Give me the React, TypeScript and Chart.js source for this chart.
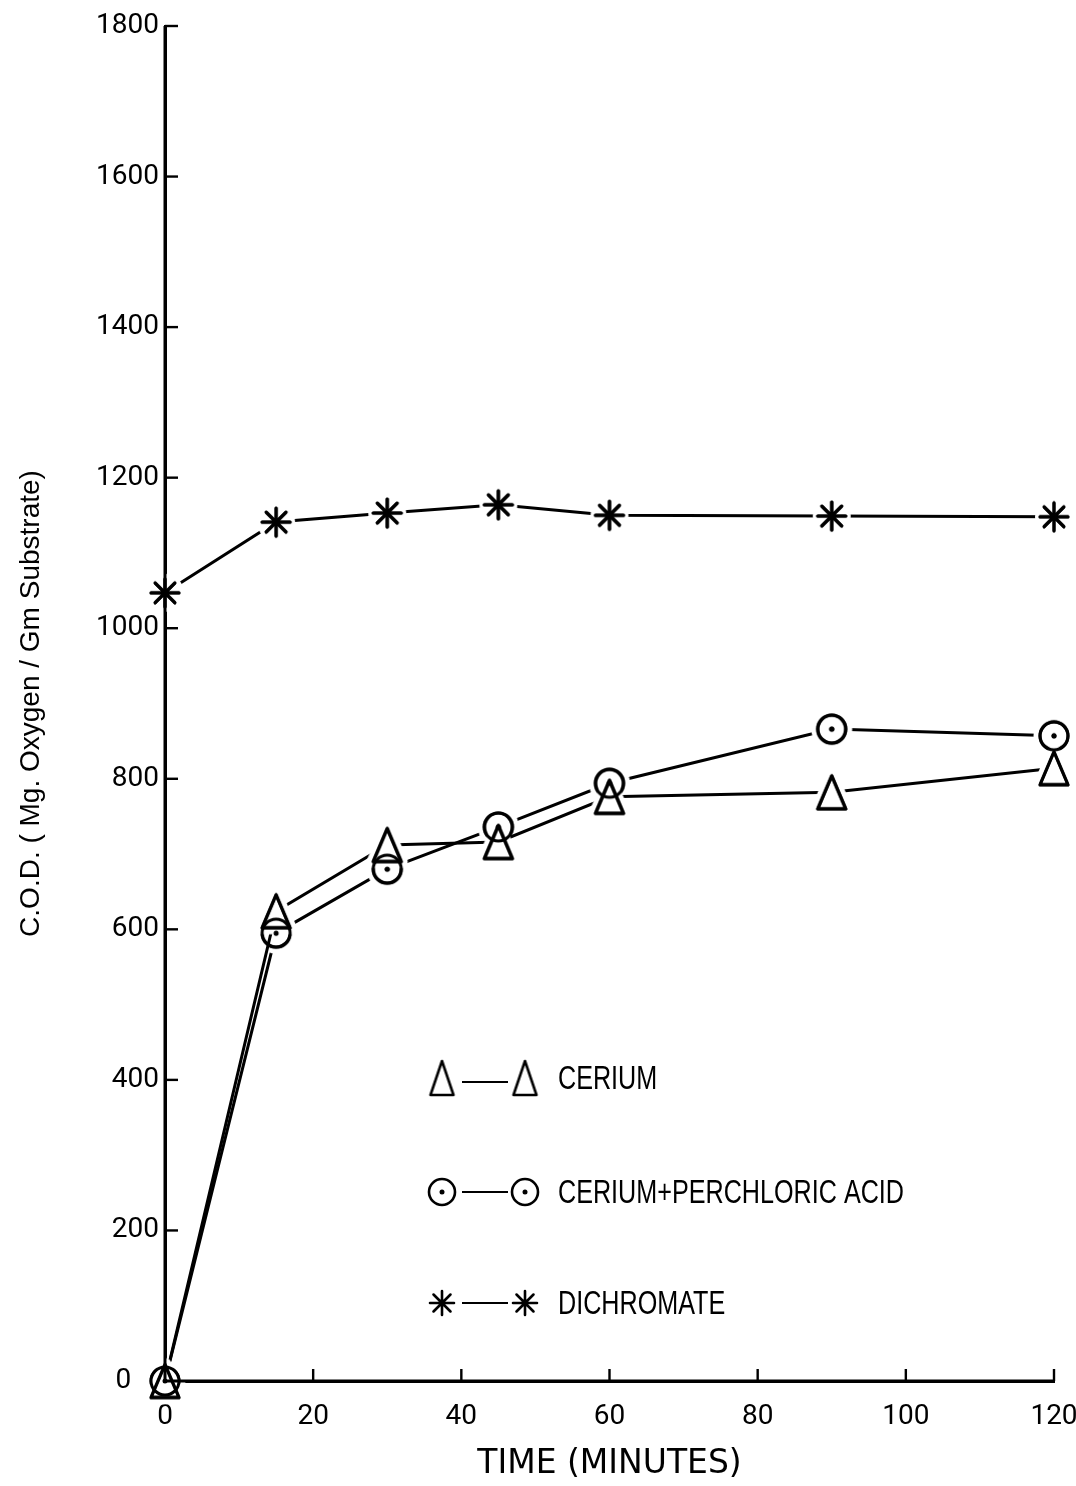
import React, { useEffect, useRef } from "react";
import { Chart, registerables } from "chart.js";

Chart.register(...registerables);

// ---- data ----
const TIME_MIN = [0, 15, 30, 45, 60, 90, 120];
const CERIUM = [0, 624, 712, 716, 776, 782, 814];
const CERIUM_PERCHLORIC = [0, 595, 680, 736, 794, 866, 857];
const DICHROMATE = [1047, 1141, 1153, 1164, 1150, 1149, 1148];
const SERIES_LABELS = ["CERIUM", "CERIUM+PERCHLORIC ACID", "DICHROMATE"];
const SERIES_MARKERS = ["triangle", "dotcircle", "star"];
const X_TICKS = [0, 20, 40, 60, 80, 100, 120];
const Y_TICKS = [0, 200, 400, 600, 800, 1000, 1200, 1400, 1600, 1800];
const X_TITLE = "TIME (MINUTES)";
const Y_TITLE = "C.O.D. ( Mg. Oxygen / Gm Substrate)";

type Kind = "triangle" | "dotcircle" | "star";

function shapePath(ctx: CanvasRenderingContext2D, kind: Kind, cx: number, cy: number, w: number, h: number) {
  ctx.beginPath();
  if (kind === "triangle") {
    ctx.moveTo(cx, cy - h / 2);
    ctx.lineTo(cx + w / 2, cy + h / 2);
    ctx.lineTo(cx - w / 2, cy + h / 2);
    ctx.closePath();
  } else if (kind === "dotcircle") {
    ctx.arc(cx, cy, w / 2, 0, Math.PI * 2);
  } else {
    const r = w / 2;
    for (let k = 0; k < 4; k++) {
      const a = (k * Math.PI) / 4;
      ctx.moveTo(cx - r * Math.cos(a), cy - r * Math.sin(a));
      ctx.lineTo(cx + r * Math.cos(a), cy + r * Math.sin(a));
    }
  }
}

function makeMarker(kind: Kind, w: number, h: number, withHalo: boolean, lw: number) {
  const halo = withHalo ? 5 : 0;
  const pad = halo + lw + 2;
  const c = document.createElement("canvas");
  c.width = Math.ceil(w + pad * 2);
  c.height = Math.ceil(h + pad * 2);
  const ctx = c.getContext("2d")!;
  const cx = c.width / 2;
  const cy = c.height / 2;
  ctx.lineJoin = "round";
  ctx.lineCap = "round";
  if (withHalo) {
    ctx.fillStyle = "#fff";
    ctx.strokeStyle = "#fff";
    if (kind === "star") {
      ctx.beginPath();
      ctx.arc(cx, cy, w / 2 + halo, 0, Math.PI * 2);
      ctx.fill();
    } else {
      shapePath(ctx, kind, cx, cy, w, h);
      ctx.lineWidth = lw + halo * 2;
      ctx.stroke();
      ctx.fill();
    }
  }
  ctx.strokeStyle = "#000";
  ctx.lineWidth = lw;
  shapePath(ctx, kind, cx, cy, w, h);
  ctx.stroke();
  if (kind === "dotcircle") {
    ctx.fillStyle = "#000";
    ctx.beginPath();
    ctx.arc(cx, cy, 2.5, 0, Math.PI * 2);
    ctx.fill();
  }
  return c;
}

const SERIES_VALUES = [CERIUM, CERIUM_PERCHLORIC, DICHROMATE];

export default function App() {
  const ref = useRef<HTMLCanvasElement>(null);

  useEffect(() => {
    if (!ref.current) return;
    const sizes: Record<Kind, [number, number]> = {
      triangle: [28, 33],
      dotcircle: [28, 28],
      star: [28, 28],
    };
    const legendSizes: Record<Kind, [number, number]> = {
      triangle: [23, 34],
      dotcircle: [26, 26],
      star: [24, 24],
    };
    const filled = SERIES_MARKERS.map((k) => makeMarker(k as Kind, sizes[k as Kind][0], sizes[k as Kind][1], true, 3));
    const outlines = SERIES_MARKERS.map((k) => makeMarker(k as Kind, sizes[k as Kind][0], sizes[k as Kind][1], false, 3));
    const legendImgs = SERIES_MARKERS.map((k) =>
      makeMarker(k as Kind, legendSizes[k as Kind][0], legendSizes[k as Kind][1], false, 2.6)
    );

    const outlinePlugin = {
      id: "markerOutlines",
      afterDatasetsDraw(chart: any) {
        const ctx = chart.ctx;
        const area = chart.chartArea;
        // re-stroke the axis lines that marker halos cover
        ctx.save();
        ctx.strokeStyle = "#000";
        ctx.lineWidth = 3;
        ctx.beginPath();
        ctx.moveTo(area.left, area.top);
        ctx.lineTo(area.left, area.bottom);
        ctx.lineTo(area.right, area.bottom);
        ctx.stroke();
        ctx.restore();
        chart.data.datasets.forEach((_ds: any, di: number) => {
          const meta = chart.getDatasetMeta(di);
          const img = outlines[di];
          meta.data.forEach((el: any) => {
            ctx.drawImage(img, el.x - img.width / 2, el.y - img.height / 2);
          });
        });
      },
    };

    const tickPlugin = {
      id: "insideTicks",
      beforeDatasetsDraw(chart: any) {
        const ctx = chart.ctx;
        const xs = chart.scales.x;
        const ys = chart.scales.y;
        const area = chart.chartArea;
        ctx.save();
        ctx.strokeStyle = "#000";
        ctx.lineWidth = 2.4;
        X_TICKS.forEach((v) => {
          if (v === 0) return;
          const px = xs.getPixelForValue(v);
          ctx.beginPath();
          ctx.moveTo(px, area.bottom);
          ctx.lineTo(px, area.bottom - 12);
          ctx.stroke();
        });
        Y_TICKS.forEach((v) => {
          if (v === 0) return;
          const py = ys.getPixelForValue(v);
          ctx.beginPath();
          ctx.moveTo(area.left, py);
          ctx.lineTo(area.left + 13, py);
          ctx.stroke();
        });
        ctx.restore();
      },
    };

    const legendPlugin = {
      id: "insideLegend",
      afterDraw(chart: any) {
        const ctx = chart.ctx;
        const area = chart.chartArea;
        const rowOffsets = [303, 189, 78];
        ctx.save();
        SERIES_LABELS.forEach((label, i) => {
          const y = area.bottom - rowOffsets[i];
          const img = legendImgs[i];
          const m1 = area.left + 277;
          const m2 = area.left + 360;
          ctx.drawImage(img, m1 - img.width / 2, y - img.height / 2);
          ctx.drawImage(img, m2 - img.width / 2, y - img.height / 2);
          ctx.strokeStyle = "#000";
          ctx.lineWidth = 2.2;
          ctx.beginPath();
          ctx.moveTo(area.left + 297, y + (i === 0 ? 4 : 0));
          ctx.lineTo(area.left + 343, y + (i === 0 ? 4 : 0));
          ctx.stroke();
          ctx.save();
          ctx.translate(area.left + 393, y);
          ctx.scale(0.74, 1);
          ctx.fillStyle = "#000";
          ctx.font = '34px "Liberation Sans", Arial, sans-serif';
          ctx.textBaseline = "middle";
          ctx.textAlign = "left";
          ctx.fillText(label, 0, 2);
          ctx.restore();
        });
        ctx.restore();
      },
    };

    const chart = new Chart(ref.current, {
      type: "line",
      data: {
        datasets: SERIES_LABELS.map((label, i) => ({
          label,
          data: TIME_MIN.map((t, j) => ({ x: t, y: SERIES_VALUES[i][j] })),
          borderColor: "#000",
          backgroundColor: "#000",
          borderWidth: 3,
          tension: 0,
          fill: false,
          clip: false as any,
          pointStyle: filled[i] as any,
          pointRadius: 14,
          pointHoverRadius: 14,
        })),
      },
      options: {
        responsive: false,
        animation: false,
        events: [],
        layout: { padding: { top: 26, right: 22, left: 0, bottom: 0 } },
        plugins: {
          legend: { display: false },
          tooltip: { enabled: false },
        },
        scales: {
          x: {
            type: "linear",
            min: 0,
            max: 120,
            afterFit: (s: any) => {
              s.height = 105;
              s.paddingLeft = 0;
              s.paddingRight = 0;
            },
            grid: { display: true, drawOnChartArea: false, drawTicks: false },
            border: { display: true, color: "#000", width: 3 },
            ticks: {
              stepSize: 20,
              autoSkip: false,
              maxRotation: 0,
              padding: 19,
              color: "#000",
              font: { family: 'Roboto, "DejaVu Sans", sans-serif', size: 28 },
            },
            title: {
              display: true,
              text: X_TITLE,
              color: "#000",
              font: { family: '"DejaVu Sans", sans-serif', size: 33 },
              padding: { top: 0, bottom: 2 },
            },
          },
          y: {
            type: "linear",
            min: 0,
            max: 1800,
            afterFit: (s: any) => {
              s.width = 165;
              s.paddingTop = 0;
              s.paddingBottom = 0;
            },
            grid: { display: true, drawOnChartArea: false, drawTicks: false },
            border: { display: true, color: "#000", width: 3 },
            ticks: {
              stepSize: 200,
              autoSkip: false,
              padding: 6,
              color: "#000",
              font: { family: 'Roboto, "DejaVu Sans", sans-serif', size: 28 },
              callback: (v: any) => (Number(v) === 0 ? "0    " : String(v)),
            },
            title: {
              display: true,
              text: Y_TITLE,
              color: "#000",
              font: { family: '"Liberation Sans", Arial, sans-serif', size: 28 },
              padding: { top: 14, bottom: 0 },
            },
          },
        },
      },
      plugins: [tickPlugin, outlinePlugin, legendPlugin],
    });
    return () => chart.destroy();
  }, []);

  return (
    <div style={{ position: "absolute", left: 0, top: 0, width: 1076, height: 1486, background: "#fff" }}>
      <canvas ref={ref} width={1076} height={1486} style={{ width: 1076, height: 1486, display: "block" }} />
    </div>
  );
}
